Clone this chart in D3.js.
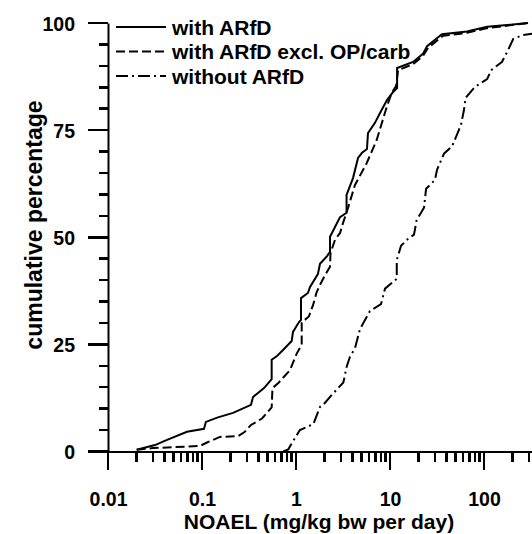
<!DOCTYPE html>
<html>

<head>
  <title> </title>
</head>
<meta charset="utf-8">
<style>
  body {
    margin: 0;
    background: #fff;
  }

  svg text {
    font-family: "Liberation Sans", Arial, sans-serif;
    font-weight: bold;
    fill: #000;
  }

  .axis path {
    stroke: #000;
    stroke-width: 2px;
  }

  .tickmark {
    fill: none;
    stroke: #000;
    stroke-width: 2.5px;
    shape-rendering: crispEdges;
  }

  .curve {
    fill: none;
    stroke: #000;
    stroke-width: 2px;
  }
</style>

<body>
  <svg width="532" height="534"></svg>
  <script src="https://cdn.jsdelivr.net/npm/d3@7"></script>
  <script>
    // cumulative distributions, [NOAEL mg/kg bw per day, cumulative %]
    var withArfd = [
      [0.0202, 0.4], [0.0316, 1.5], [0.0425, 2.7], [0.0692, 4.6], [0.105, 5.3], [0.110, 6.9],
      [0.145, 7.9], [0.214, 9.0], [0.332, 10.9], [0.349, 12.7], [0.457, 14.8], [0.551, 16.9],
      [0.551, 21.4], [0.628, 22.3], [0.728, 23.7], [0.900, 25.8], [0.929, 27.9], [1.076, 30.2],
      [1.13, 30.7], [1.13, 35.8], [1.34, 37.0], [1.41, 38.4], [1.71, 41.4], [1.80, 43.8],
      [2.14, 45.6], [2.30, 46.6], [2.30, 50.1], [2.60, 52.4], [2.94, 54.7], [3.45, 55.7],
      [3.45, 59.9], [4.04, 63.8], [4.57, 68.5], [5.04, 69.7], [5.69, 70.6], [5.83, 74.3],
      [6.92, 76.7], [7.83, 79.0], [9.29, 82.0], [10.8, 83.9], [11.9, 84.8], [11.9, 89.5],
      [17.6, 90.9], [22.4, 92.8], [24.8, 94.6], [35.7, 97.4], [65.9, 98.0], [108, 99.1], [294, 100]
    ];
    var withArfdExcl = [
      [0.0202, 0.4], [0.0301, 0.8], [0.0953, 1.3], [0.113, 2.1], [0.155, 3.4], [0.242, 3.6],
      [0.286, 4.6], [0.332, 6.2], [0.435, 7.7], [0.551, 10.3], [0.562, 14.8], [0.644, 15.9],
      [0.863, 19.0], [1.02, 22.9], [1.15, 24.9], [1.15, 30.1], [1.37, 31.5], [1.52, 34.2],
      [1.66, 37.2], [1.80, 38.9], [2.04, 41.2], [2.30, 43.1], [2.33, 46.3], [2.60, 49.4],
      [2.94, 51.0], [3.16, 53.3], [3.57, 56.8], [4.24, 62.2], [5.65, 67.3], [7.22, 72.7],
      [9.23, 80.4], [10.4, 83.6], [11.6, 85.3], [12.2, 89.0], [17.6, 90.4], [22.4, 92.3],
      [25.4, 94.2], [36.6, 97.0], [65.9, 97.7], [108, 98.8], [294, 100]
    ];
    var withoutArfd = [
      [0.733, 0], [0.828, 0.5], [0.900, 1.9], [1.10, 5.0], [1.53, 6.4], [1.80, 10.4],
      [1.95, 10.9], [2.40, 13.2], [3.19, 16.1], [3.46, 19.8], [3.75, 22.1], [4.24, 24.1],
      [4.80, 28.6], [6.12, 32.8], [8.02, 34.4], [8.85, 38.0], [11.8, 40.3], [11.8, 44.7],
      [13.1, 48.0], [15.5, 49.6], [18.0, 50.6], [19.2, 54.0], [23.0, 56.9], [24.2, 61.3],
      [30.1, 63.4], [31.6, 65.7], [37.5, 69.5], [45.7, 71.2], [56.9, 76.2], [61.2, 79.7],
      [63.6, 82.5], [80.2, 85.1], [108, 86.9], [119, 89.0], [155, 90.9], [176, 93.2],
      [205, 96.3], [260, 97.2], [324, 97.5]
    ];

    var seriesNames = ["with ARfD", "with ARfD excl. OP/carb", "without ARfD"];
    var seriesDash = ["none", "9,4", "12,4,2,4"];
    var xMajor = [0.01, 0.1, 1, 10, 100];
    var xMajorLabels = ["0.01", "0.1", "1", "10", "100"];
    var yMajor = [0, 25, 50, 75, 100];
    var xTitle = "NOAEL (mg/kg bw per day)";
    var yTitle = "cumulative percentage";

    var svg = d3.select("svg"),
      margin = {
        top: 23,
        right: 0,
        bottom: 82.5,
        left: 108
      },
      width = +svg.attr("width") - margin.left - margin.right,
      height = +svg.attr("height") - margin.top - margin.bottom;

    // 0.01 .. 100 spans 376px, axis runs on to the right edge
    var xMax = Math.pow(10, 2 + (width - 376) / 94);
    var x = d3.scaleLog().domain([0.01, xMax]).range([0, width]),
      y = d3.scaleLinear().domain([0, 100]).range([height, 0]);

    var xMinor = [];
    xMajor.forEach(function(p) {
      for (var k = 2; k <= 9; k++) {
        if (p * k <= xMax) xMinor.push(p * k);
      }
    });
    var yMinor = d3.range(0, 101, 5).filter(function(v) {
      return v % 25 !== 0;
    });

    var xTicks = xMinor.map(function(v) { return { v: v, len: 10 }; })
      .concat(xMajor.map(function(v) { return { v: v, len: 18 }; }));
    var yTicks = yMinor.map(function(v) { return { v: v, len: 9 }; })
      .concat(yMajor.map(function(v) { return { v: v, len: 20 }; }));

    var g = svg.append("g")
      .attr("transform", "translate(" + margin.left + "," + margin.top + ")");

    // tick marks first, axis lines on top
    g.selectAll(".xt")
      .data(xTicks)
      .enter().append("path")
      .attr("class", "tickmark xt")
      .attr("d", function(d) {
        return "M" + x(d.v) + "," + height + "L" + x(d.v) + "," + (height + d.len);
      });

    g.selectAll(".yt")
      .data(yTicks)
      .enter().append("path")
      .attr("class", "tickmark yt")
      .attr("d", function(d) {
        return "M0," + y(d.v) + "L" + (-d.len) + "," + y(d.v);
      });

    var gx = g.append("g")
      .attr("class", "axis axis--x")
      .attr("transform", "translate(0," + height + ")")
      .call(d3.axisBottom(x).tickValues(xMajor).tickSize(0).tickSizeOuter(0)
        .tickFormat(function(d, i) {
          return xMajorLabels[i];
        }));
    gx.selectAll("text")
      .attr("y", 54)
      .attr("dy", 0)
      .style("font-size", "19.5px");

    var gy = g.append("g")
      .attr("class", "axis axis--y")
      .call(d3.axisLeft(y).tickValues(yMajor).tickSize(0).tickSizeOuter(0));
    gy.selectAll("text")
      .attr("x", -33)
      .attr("dy", "0.36em")
      .style("font-size", "19.5px");

    // titles
    svg.append("text")
      .attr("x", 319)
      .attr("y", 529)
      .attr("text-anchor", "middle")
      .style("font-size", "21px")
      .text(xTitle);

    svg.append("text")
      .attr("transform", "translate(42,225) rotate(-90)")
      .attr("text-anchor", "middle")
      .style("font-size", "23px")
      .text(yTitle);

    // curves
    var line = d3.line()
      .x(function(d) {
        return x(d[0]);
      })
      .y(function(d) {
        return y(d[1]);
      });

    var series = [withArfd, withArfdExcl, withoutArfd];

    g.selectAll(".curve")
      .data(series)
      .enter().append("path")
      .attr("class", "curve")
      .attr("stroke-dasharray", function(d, i) {
        return seriesDash[i];
      })
      .attr("d", line);

    // legend
    var legend = svg.append("g")
      .attr("transform", "translate(116,27)");

    var item = legend.selectAll(".item")
      .data(seriesNames)
      .enter().append("g")
      .attr("class", "item")
      .attr("transform", function(d, i) {
        return "translate(0," + (i * 24.5) + ")";
      });

    item.append("line")
      .attr("x1", 0)
      .attr("x2", 50)
      .attr("stroke", "#000")
      .attr("stroke-width", 2)
      .attr("stroke-dasharray", function(d, i) {
        return seriesDash[i];
      });

    item.append("text")
      .attr("x", 56)
      .attr("y", 7.5)
      .style("font-size", "21px")
      .text(function(d) {
        return d;
      });
  </script>


</body>

</html>
